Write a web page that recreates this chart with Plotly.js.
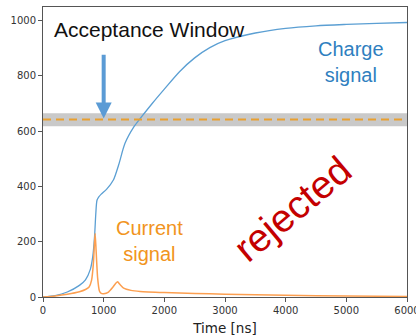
<!DOCTYPE html>
<html>
<head>
<meta charset="utf-8">
<script src="https://cdn.plot.ly/plotly-3.0.1.min.js"></script>
<style>
  html, body { margin: 0; padding: 0; background: #fff; }
  #chart { width: 416px; height: 336px; }
</style>
</head>
<body>
<div id="chart"></div>
<script>
// Integrated charge signal (time in ns)
const chargeTime = [0, 200, 400, 600, 700, 780, 820, 850, 870, 890, 920, 960, 1050, 1160, 1250, 1350, 1500, 1600, 1800, 2000, 2250, 2500, 2750, 3000, 3500, 4000, 4500, 5000, 5500, 6000];
const chargeValues = [0, 5, 18, 42, 62, 100, 146, 220, 300, 350, 362, 372, 390, 423, 480, 555, 616, 645, 700, 752, 815, 865, 902, 927, 955, 972, 981, 986, 990, 993];

// Current signal (time in ns)
const currentTime = [0, 200, 400, 600, 700, 760, 800, 830, 850, 860, 875, 900, 930, 960, 1000, 1080, 1150, 1200, 1230, 1270, 1330, 1450, 1600, 2000, 2500, 3000, 3500, 4000, 5000, 6000];
const currentValues = [0, 4, 10, 19, 27, 36, 60, 120, 200, 230, 170, 70, 22, 13, 12, 18, 35, 50, 55, 45, 32, 24, 20, 16, 13, 10, 8, 6, 3.5, 2];

// Acceptance window: threshold level and band limits
const windowLevel = 642;
const windowLow = 618;
const windowHigh = 665;

const xTicks = [0, 1000, 2000, 3000, 4000, 5000, 6000];
const yTicks = [0, 200, 400, 600, 800, 1000];

const traces = [
  {
    x: chargeTime, y: chargeValues, type: 'scatter', mode: 'lines',
    line: { color: '#5b9fd3', width: 1.3, shape: 'spline', smoothing: 0.7 }, hoverinfo: 'skip'
  },
  {
    x: currentTime, y: currentValues, type: 'scatter', mode: 'lines',
    line: { color: '#fc9f50', width: 1.5, shape: 'spline', smoothing: 0.5 }, hoverinfo: 'skip'
  }
];

const textFont = 'Liberation Sans, Arial, Helvetica, sans-serif';

const layout = {
  width: 416, height: 336,
  margin: { l: 43, r: 9, t: 7, b: 39 },
  paper_bgcolor: '#ffffff', plot_bgcolor: '#ffffff',
  showlegend: false,
  xaxis: {
    range: [0, 6000], tickvals: xTicks, ticktext: xTicks.map(String),
    ticklabeloverflow: 'allow',
    showgrid: false, zeroline: false, showline: true, mirror: true,
    linecolor: '#555', linewidth: 1, ticks: 'outside', ticklen: 4, tickcolor: '#555',
    tickfont: { family: 'DejaVu Sans, sans-serif', size: 10, color: '#333' },
    title: { text: 'Time [ns]', font: { family: 'DejaVu Sans, sans-serif', size: 13.5, color: '#222' }, standoff: 9 }
  },
  yaxis: {
    range: [0, 1049], tickvals: yTicks, ticktext: yTicks.map(String),
    showgrid: false, zeroline: false, showline: true, mirror: true,
    linecolor: '#555', linewidth: 1, ticks: 'outside', ticklen: 4, tickcolor: '#555',
    tickfont: { family: 'DejaVu Sans, sans-serif', size: 10, color: '#333' }
  },
  shapes: [
    {
      type: 'rect', xref: 'paper', yref: 'y', x0: 0, x1: 1, y0: windowLow, y1: windowHigh,
      fillcolor: '#c9c9c9', line: { width: 0 }, layer: 'below'
    },
    {
      type: 'line', xref: 'paper', yref: 'y', x0: 0, x1: 1, y0: windowLevel, y1: windowLevel,
      line: { color: '#e9a030', width: 2, dash: '8px,5px' }
    }
  ],
  annotations: [
    {
      x: 1000, y: windowLevel + 4, ax: 1000, ay: 882, axref: 'x', ayref: 'y',
      xref: 'x', yref: 'y', text: '', showarrow: true,
      arrowhead: 2, arrowsize: 0.8, arrowwidth: 4, arrowcolor: '#5b9bd5'
    },
    {
      x: 1752, y: 969, xref: 'x', yref: 'y', text: 'Acceptance Window', showarrow: false,
      font: { family: textFont, size: 21, color: '#111' }
    },
    {
      x: 5074, y: 850, xref: 'x', yref: 'y', text: 'Charge<br>signal', showarrow: false,
      font: { family: textFont, size: 20, color: '#2f7fc0' }
    },
    {
      x: 1752, y: 203, xref: 'x', yref: 'y', text: 'Current<br>signal', showarrow: false,
      font: { family: textFont, size: 20, color: '#f19420' }
    },
    {
      x: 4120, y: 320, xref: 'x', yref: 'y', text: 'rejected', showarrow: false, textangle: -40,
      font: { family: textFont, size: 39, color: '#c40000' }
    }
  ]
};

Plotly.newPlot('chart', traces, layout, { staticPlot: true, displayModeBar: false });
</script>
</body>
</html>
